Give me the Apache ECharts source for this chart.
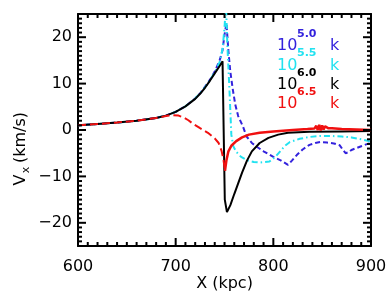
<!DOCTYPE html>
<html>
<head>
<meta charset="utf-8">
<script src="https://cdn.jsdelivr.net/npm/echarts@6/dist/echarts.min.js"></script>
<style>html,body{margin:0;padding:0;background:#fff;}#c{width:390px;height:301px;}</style>
</head>
<body>
<div id="c"></div>
<script>
// ---- data ----
const xMajorTicks = [600, 700, 800, 900];
const xMinorTicks = [610,620,630,640,650,660,670,680,690,710,720,730,740,750,760,770,780,790,810,820,830,840,850,860,870,880,890];
const yMajorTicks = [-20, -10, 0, 10, 20];
const yMinorTicks = [-25,-24,-23,-22,-21,-19,-18,-17,-16,-15,-14,-13,-12,-11,-9,-8,-7,-6,-5,-4,-3,-2,-1,1,2,3,4,5,6,7,8,9,11,12,13,14,15,16,17,18,19,21,22,23,24,25];

const blueX = [600,620,640,660,680,690,700,710,720,725,730,735,740,745,748,750,752,754,756,758.6,761,764,769,772.6,778,783,790,800,808,815,819,824,830,837,843,848,855,862,868,871,874,877,880,885,890,895,900];
const blueY = [1.0,1.3,1.6,2.0,2.6,3.1,3.9,5.1,6.8,7.9,9.3,10.8,12.6,15.0,17.2,20.5,23.0,17,12.5,8.6,5.5,3.0,0.7,-1.4,-2.8,-3.6,-4.6,-5.8,-6.6,-7.5,-6.6,-5.4,-4.2,-3.2,-2.8,-2.6,-2.7,-2.9,-3.3,-4.2,-5.0,-4.8,-4.3,-3.9,-3.5,-3.1,-2.8];

const cyanX = [600,620,640,660,680,690,700,710,720,725,730,735,740,745,748,750,751.5,753,755,757,759,762,767,773,780,786,796,802,807,812,817,827,837,848,860,870,880,890,900];
const cyanY = [1.0,1.3,1.6,2.0,2.6,3.1,3.9,5.1,6.8,7.9,9.2,10.7,12.4,14.6,17.5,22,27,18,9,-1,-3.5,-4.7,-5.8,-6.5,-6.9,-7.0,-6.8,-5.8,-4.6,-3.4,-2.6,-1.9,-1.5,-1.3,-1.3,-1.4,-1.6,-2.0,-2.5];

const blackX = [600,620,640,660,680,690,700,710,720,725,730,735,740,745,748,749.3,750.3,752.5,756,760,764,768,773,778,786,795,805,815,837,870,900];
const blackY = [1.0,1.3,1.6,2.0,2.6,3.1,3.9,5.1,6.7,7.8,9.1,10.6,12.2,13.8,14.8,15.0,-15,-17.7,-16.2,-13.8,-11.5,-9.2,-6.6,-4.6,-2.8,-1.7,-1.0,-0.6,-0.4,-0.3,-0.2];

const redX = [600,620,640,660,680,690,697,703,708,713,718,725,733,740,744,747,749,750.5];
const redY = [1.0,1.3,1.6,2.0,2.6,3.0,3.2,3.1,2.7,2.1,1.3,0.4,-0.6,-1.8,-2.8,-4.5,-6.5,-8.8];
const redTailX = [750.5,752,754,757,762,768,775,786,800,820,835,842,844,845.5,847,848.5,850,851.5,853,856,860,870,885,900];
const redTailY = [-8.8,-6.5,-4.6,-3.4,-2.4,-1.6,-1.0,-0.6,-0.3,0.0,0.2,0.3,0.9,0.0,1.1,-0.1,1.0,0.1,0.8,0.4,0.4,0.2,0.1,0.0];

const legendExp = ['5.0', '5.5', '6.0', '6.5'];
const colors = ['#3322dd', '#22e2f0', '#000000', '#f01010'];

// ---- chart ----
const zip = (xs, ys) => xs.map((x, i) => [x, ys[i]]);
const FONT = 'DejaVu Sans';
const X_MIN = 600, X_MAX = 900, Y_MIN = -25, Y_MAX = 25;
const MAJOR_LEN = 8, MINOR_LEN = 4;
const chart = echarts.init(document.getElementById('c'), null, {renderer: 'canvas'});

// tick items: [value, side(0 bottom,1 top,2 left,3 right), major(1)/minor(0)]
const tickItems = [];
[0, 1].forEach(s => {
  xMajorTicks.forEach(v => tickItems.push([v, s, 1]));
  xMinorTicks.forEach(v => tickItems.push([v, s, 0]));
});
[2, 3].forEach(s => {
  yMajorTicks.forEach(v => tickItems.push([v, s, 1]));
  yMinorTicks.forEach(v => tickItems.push([v, s, 0]));
});

function renderTick(params, api) {
  const v = api.value(0), side = api.value(1);
  const len = api.value(2) ? MAJOR_LEN : MINOR_LEN;
  let p, x2, y2;
  if (side === 0) { p = api.coord([v, Y_MIN]); x2 = p[0]; y2 = p[1] - len; }
  else if (side === 1) { p = api.coord([v, Y_MAX]); x2 = p[0]; y2 = p[1] + len; }
  else if (side === 2) { p = api.coord([X_MIN, v]); x2 = p[0] + len; y2 = p[1]; }
  else { p = api.coord([X_MAX, v]); x2 = p[0] - len; y2 = p[1]; }
  return {type: 'line', shape: {x1: p[0], y1: p[1], x2: x2, y2: y2},
    style: {stroke: '#000', lineWidth: 2}};
}

const axisLine = {show: true, onZero: false, lineStyle: {color: '#000', width: 2}};

const legendGraphics = [];
const rowY = [46, 65.5, 85, 104];
legendExp.forEach((e, i) => {
  legendGraphics.push({type: 'text', x: 277, y: rowY[i], style: {text: '10', fill: colors[i], font: '16px "' + FONT + '"', textAlign: 'left', textVerticalAlign: 'middle'}});
  legendGraphics.push({type: 'text', x: 297, y: rowY[i] - 12, style: {text: e, fill: colors[i], font: 'bold 11px "' + FONT + '"', textAlign: 'left', textVerticalAlign: 'middle'}});
  legendGraphics.push({type: 'text', x: 330, y: rowY[i], style: {text: 'k', fill: colors[i], font: '16px "' + FONT + '"', textAlign: 'left', textVerticalAlign: 'middle'}});
});

chart.setOption({
  animation: false,
  grid: {left: 78, right: 19, top: 14, bottom: 55, containLabel: false},
  xAxis: [
    {type: 'value', min: X_MIN, max: X_MAX, interval: 100, position: 'bottom',
      splitLine: {show: false}, axisLine: axisLine, axisTick: {show: false},
      axisLabel: {show: true, margin: 13, color: '#000', fontFamily: FONT, fontSize: 16}},
    {type: 'value', min: X_MIN, max: X_MAX, interval: 100, position: 'top',
      splitLine: {show: false}, axisLine: axisLine, axisTick: {show: false}, axisLabel: {show: false}}
  ],
  yAxis: [
    {type: 'value', min: Y_MIN, max: Y_MAX, position: 'left', splitLine: {show: false},
      axisLine: axisLine, axisTick: {show: false},
      axisLabel: {show: true, margin: 6, customValues: yMajorTicks, color: '#000', fontFamily: FONT, fontSize: 16,
        formatter: v => (v < 0 ? '\u2212' + Math.abs(v) : String(v))}},
    {type: 'value', min: Y_MIN, max: Y_MAX, position: 'right', splitLine: {show: false},
      axisLine: axisLine, axisTick: {show: false}, axisLabel: {show: false}}
  ],
  series: [
    {type: 'line', data: zip(blueX, blueY), symbol: 'none', clip: true,
      lineStyle: {color: colors[0], width: 2, type: [5, 3]}},
    {type: 'line', data: zip(cyanX, cyanY), symbol: 'none', clip: true,
      lineStyle: {color: colors[1], width: 2, type: [6, 3, 1.5, 3]}},
    {type: 'line', data: zip(blackX, blackY), symbol: 'none', clip: true,
      lineStyle: {color: colors[2], width: 2}},
    {type: 'line', data: zip(redX, redY), symbol: 'none', clip: true,
      lineStyle: {color: colors[3], width: 2, type: [8, 4]}},
    {type: 'line', data: zip(redTailX, redTailY), symbol: 'none', clip: true,
      lineStyle: {color: colors[3], width: 2.5}},
    {type: 'custom', coordinateSystem: 'cartesian2d', xAxisIndex: 0, yAxisIndex: 0,
      data: tickItems, renderItem: renderTick, clip: false, silent: true, z: 5,
      encode: {x: -1, y: -1}}
  ],
  graphic: [
    {type: 'text', x: 224.5, y: 284, style: {text: 'X (kpc)', fill: '#000', font: '16px "' + FONT + '"', textAlign: 'center', textVerticalAlign: 'middle'}},
    {type: 'text', x: 21, y: 180, rotation: Math.PI / 2, style: {text: 'V', fill: '#000', font: '16px "' + FONT + '"', textAlign: 'center', textVerticalAlign: 'middle'}},
    {type: 'text', x: 26, y: 170, rotation: Math.PI / 2, style: {text: 'x', fill: '#000', font: '11px "' + FONT + '"', textAlign: 'center', textVerticalAlign: 'middle'}},
    {type: 'text', x: 21, y: 163, rotation: Math.PI / 2, style: {text: '(km/s)', fill: '#000', font: '16px "' + FONT + '"', textAlign: 'left', textVerticalAlign: 'middle'}}
  ].concat(legendGraphics)
});
</script>
</body>
</html>
